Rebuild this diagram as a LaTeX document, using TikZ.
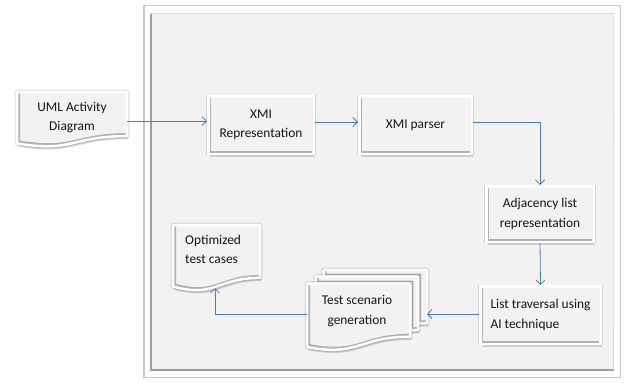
\documentclass[tikz,border=0pt]{standalone}
\usepackage{fontspec}
\setmainfont{Carlito}
\usetikzlibrary{arrows.meta,shadows}
\definecolor{face}{HTML}{F2F2F2}
\definecolor{linkblue}{HTML}{4A7EBB}
\definecolor{inkc}{HTML}{141414}

% bevelled, shadowed outline for free-form document shapes
\newcommand\bevelpath[1]{%
  \draw[black, opacity=0.10, line width=5pt, line join=round] #1;
  \fill[black, opacity=0.14, shift={(0.6pt,-1.6pt)}] #1;
  \fill[black, opacity=0.14, shift={(1.4pt,-3.2pt)}] #1;
  \fill[face] #1;
  \begin{scope}
    \clip #1;
    \draw[black!30, line width=3pt, shift={(1.6pt,1.6pt)}] #1;
  \end{scope}
  \draw[white, line width=2.5pt, line join=round] #1;
}

\begin{document}
\begin{tikzpicture}[x=1pt, y=-1pt,
  font=\fontsize{13.4}{19.5}\selectfont,
  procbox/.style={rectangle, inner sep=0pt, align=center, text=inkc,
    fill=face, draw=white, line width=2.5pt,
    drop shadow={shadow xshift=0pt, shadow yshift=-0.3pt, shadow scale=1.045, opacity=0.12, fill=black},
    drop shadow={shadow xshift=0.6pt, shadow yshift=-1.6pt, opacity=0.14, fill=black},
    drop shadow={shadow xshift=1.4pt, shadow yshift=-3.2pt, opacity=0.14, fill=black},
    path picture={\draw[black!30, line width=1.5pt]
      ([shift={(2pt,-1.5pt)}]path picture bounding box.north west) --
      ([shift={(2pt,2pt)}]path picture bounding box.south west) --
      ([shift={(-1.5pt,2pt)}]path picture bounding box.south east);}},
  docframe/.style={rectangle, inner sep=0pt, outer sep=0pt, anchor=north west},
  doctext/.style={inner sep=0pt, align=center, text=inkc},
  link/.style={draw=linkblue, line width=0.8pt, -{Straight Barb[length=4.5pt,width=9pt]}}]

\useasboundingbox (0,0) rectangle (625,383);
\fill[white] (0,0) rectangle (625,383);

% system panel
\fill[black!22] (143,5) rectangle (621,378);
\fill[white] (144.5,5.5) rectangle (619.5,376.5);
\fill[face] (150,13) rectangle (614,371);
\draw[black!38, line width=2.2pt] (151,13) -- (151,369.9) -- (614,369.9);
\draw[black!15, line width=0.8pt] (150,13.4) -- (614,13.4) -- (613.6,370);

% process steps
\node[procbox, minimum width=105.5pt, minimum height=57.5pt] (xmi) at (261,125) {XMI\\Representation};
\node[procbox, minimum width=112.5pt, minimum height=57.5pt] (parser) at (415.5,125) {XMI parser};
\node[procbox, minimum width=107.5pt, minimum height=55.5pt] (adj) at (540,214) {Adjacency list\\representation};
\node[procbox, minimum width=120.5pt, minimum height=57.5pt, align=left] (trav) at (540.5,315) {List traversal using\\AI technique};

% input document
\node[docframe, minimum width=110pt, minimum height=55pt] (umlbox) at (17,92) {};
\begin{scope}[shift={(umlbox.north west)}]
  \bevelpath{(0,0) -- (110,0) -- (110,44.11) .. controls (55,44.11) and (55,60.92) .. (0,51.37) -- cycle}
\end{scope}
\node[doctext] (umltext) at ([yshift=2pt]umlbox.center) {UML Activity\\Diagram};

% output document
\node[docframe, minimum width=87pt, minimum height=66pt] (optbox) at (173,225) {};
\begin{scope}[shift={(optbox.north west)}]
  \bevelpath{(0,0) -- (87,0) -- (87,52.93) .. controls (43.5,52.93) and (43.5,73.10) .. (0,61.64) -- cycle}
\end{scope}
\node[doctext, align=left, anchor=west] (opttext) at ([xshift=12pt,yshift=8.5pt]optbox.west) {Optimized\\test cases};

% stacked documents
\node[docframe, minimum width=120pt, minimum height=80pt] (tsgbox) at (307,270) {};
\begin{scope}[shift={(tsgbox.north west)}]
  \bevelpath{(16.51,6.72) -- (16.51,0) -- (120,0) -- (120,53.30) .. controls (115.56,53.30) and (111.11,53.58) .. (111.11,53.58) -- (111.11,6.72) -- cycle}
  \bevelpath{(8.51,13.61) -- (8.51,6.72) -- (111.11,6.72) -- (111.11,60.19) .. controls (107.21,60.19) and (103.31,60.56) .. (103.31,60.56) -- (103.31,13.61) -- cycle}
  \bevelpath{(0,76.97) .. controls (51.66,87.19) and (51.66,66.75) .. (103.31,66.75) -- (103.31,13.61) -- (0,13.61) -- cycle}
\end{scope}
\node[doctext] (tsgtext) at ([xshift=-10pt,yshift=-1pt]tsgbox.center) {Test scenario\\generation};

% flow
\draw[link] ([yshift=-1.5pt]umlbox.east) -- ([yshift=-1.5pt]umlbox.east -| xmi.west);
\draw[link] ([yshift=3pt]xmi.east) -- ([yshift=3pt]parser.west);
\draw[link] ([yshift=3pt]parser.east) -| (adj.north);
\draw[link] (adj.south) -- (trav.north);
\draw[link] ([yshift=1pt]trav.west) -- ([yshift=1pt]trav.west -| tsgbox.east);
\draw[link] ([yshift=1pt]trav.west -| tsgbox.west) -| ([xshift=-1.5pt,yshift=3pt]optbox.south);
\end{tikzpicture}
\end{document}
